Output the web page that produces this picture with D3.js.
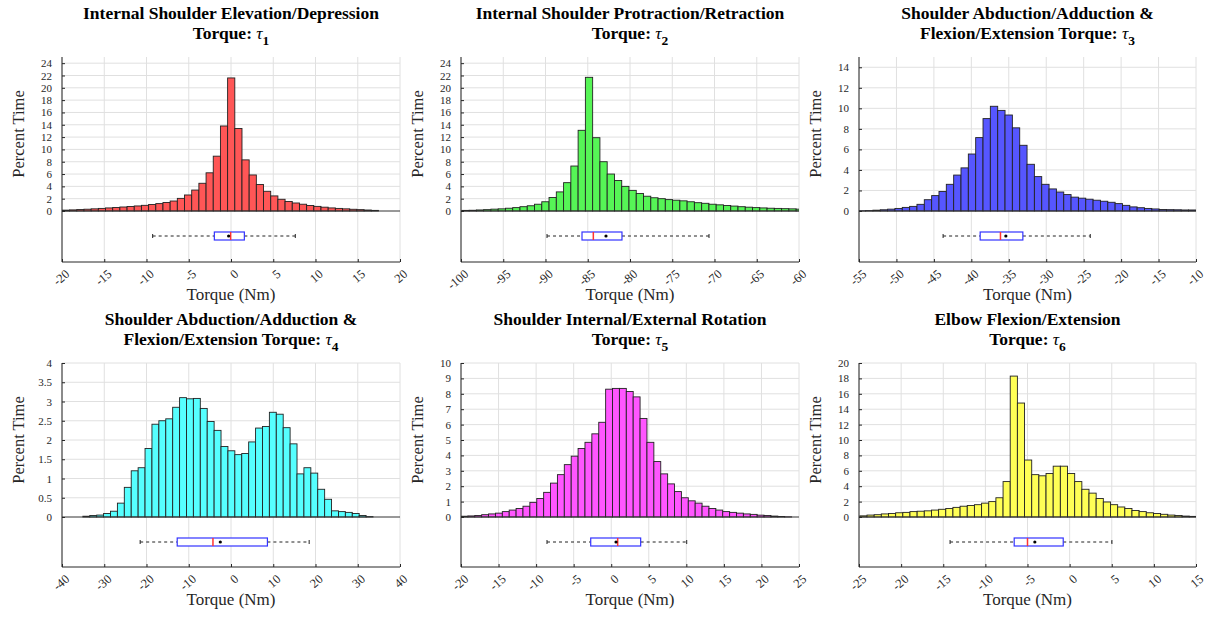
<!DOCTYPE html>
<html>
<head>
<meta charset="utf-8">
<script src="https://cdn.jsdelivr.net/npm/d3@7"></script>
<style>
  body { margin: 0; background: #fff; }
  svg text { font-family: "Liberation Serif", "Times New Roman", serif; fill: #262626; }
</style>
</head>
<body>
<svg id="fig" width="1210" height="617"></svg>
<script>
// ---- data ----
// each histogram: first bin edge, bin width, bar heights (percent time)
const tau1Start = -19.95, tau1Width = 0.85;
const tau1Values = [0.14, 0.18, 0.23, 0.29, 0.35, 0.42, 0.5, 0.57, 0.65, 0.73, 0.82, 0.92, 1.05, 1.2, 1.38, 1.62, 2.05, 2.6, 3.4, 4.5, 6.2, 8.9, 13.8,
  21.6,
  13.4, 8.3, 5.85, 4.3, 3.2, 2.45, 1.9, 1.55, 1.3, 1.1, 0.9, 0.75, 0.62, 0.5, 0.42, 0.35, 0.28, 0.22, 0.16, 0.1];

const tau2Start = -99.9, tau2Width = 0.86;
const tau2Values = [0.1, 0.12, 0.17, 0.22, 0.3, 0.35, 0.45, 0.55, 0.7, 0.85, 1.1, 1.5, 2.2, 3.1, 4.6, 7.3, 13.1,
  21.7,
  11.9, 8.0, 6.0, 4.95, 4.0, 3.35, 2.85, 2.4, 2.15, 2.0, 1.85, 1.75, 1.65, 1.5, 1.35, 1.25, 1.1, 1.0, 0.9, 0.8, 0.7, 0.62, 0.55, 0.5, 0.45, 0.42, 0.38, 0.35, 0.3];

const tau3Start = -55.1, tau3Width = 0.98;
const tau3Values = [0.02, 0.04, 0.08, 0.12, 0.18, 0.25, 0.35, 0.45, 0.65, 1.1, 1.5, 1.9, 2.6, 3.5, 4.2, 5.55, 7.15, 9.0,
  10.2,
  9.8, 9.35, 8.1, 6.4, 4.55, 3.35, 2.6, 2.15, 1.85, 1.6, 1.35, 1.25, 1.15, 1.05, 0.95, 0.85, 0.72, 0.55, 0.4, 0.32, 0.25, 0.2, 0.15, 0.13, 0.12, 0.1, 0.1];

const tau4Start = -35.06, tau4Width = 1.635;
const tau4Values = [0.02, 0.04, 0.05, 0.09, 0.15, 0.36, 0.77, 1.2, 1.28, 1.78, 2.41, 2.5, 2.55, 2.85, 3.1, 3.07, 3.08, 2.82, 2.48, 2.25, 1.83,
  1.72, 1.62, 1.65, 1.95, 2.31, 2.35, 2.72, 2.67, 2.32, 1.9, 1.12, 1.28, 1.14, 0.72, 0.46, 0.16, 0.14, 0.12, 0.09, 0.04, 0.01];

const tau5Start = -20.0, tau5Width = 0.917;
const tau5Values = [0.05, 0.07, 0.1, 0.15, 0.2, 0.25, 0.35, 0.45, 0.55, 0.7, 0.95, 1.2, 1.6, 2.2, 2.75, 3.4, 3.95, 4.45, 4.85, 5.4, 6.15,
  8.3, 8.35, 8.35, 8.15, 7.8, 6.4, 4.85, 3.6, 2.8, 2.15, 1.65, 1.25, 1.05, 0.9, 0.7, 0.55, 0.45, 0.35, 0.3, 0.25, 0.2, 0.17, 0.12, 0.1, 0.06, 0.03, 0.01];

const tau6Start = -24.9, tau6Width = 0.85;
const tau6Values = [0.15, 0.25, 0.3, 0.4, 0.45, 0.55, 0.6, 0.7, 0.75, 0.8, 0.9, 1.0, 1.1, 1.25, 1.4, 1.5, 1.6, 1.8, 2.0, 2.5, 4.6,
  18.3, 14.8, 7.4, 5.5, 5.35, 5.65, 6.6, 6.6, 5.65, 4.6, 3.6, 3.1, 2.4, 1.95, 1.6, 1.3, 1.1, 0.85, 0.7, 0.55, 0.45, 0.35, 0.25, 0.2, 0.12, 0.08];

// box plots: [q1, median, q3, mean, whisker low, whisker high]
const tau1Box = [-1.97, -0.04, 1.58, -0.28, -9.27, 7.61];
const tau2Box = [-85.68, -84.34, -80.95, -82.84, -89.82, -70.65];
const tau3Box = [-38.82, -36.11, -33.12, -35.39, -43.77, -24.12];
const tau4Box = [-12.73, -4.27, 8.62, -2.53, -21.5, 18.5];
const tau5Box = [-2.73, 0.86, 3.92, 0.64, -8.55, 10.05];
const tau6Box = [-6.58, -5.0, -0.76, -4.13, -14.19, 5.02];

// axes
const xTicks1 = [-20, -15, -10, -5, 0, 5, 10, 15, 20];
const xTicks2 = [-100, -95, -90, -85, -80, -75, -70, -65, -60];
const xTicks3 = [-55, -50, -45, -40, -35, -30, -25, -20, -15, -10];
const xTicks4 = [-40, -30, -20, -10, 0, 10, 20, 30, 40];
const xTicks5 = [-20, -15, -10, -5, 0, 5, 10, 15, 20, 25];
const xTicks6 = [-25, -20, -15, -10, -5, 0, 5, 10, 15];
const yTicks1 = [0, 2, 4, 6, 8, 10, 12, 14, 16, 18, 20, 22, 24];
const yTicks3 = [0, 2, 4, 6, 8, 10, 12, 14];
const yTicks4 = [0, 0.5, 1, 1.5, 2, 2.5, 3, 3.5, 4];
const yTicks5 = [0, 1, 2, 3, 4, 5, 6, 7, 8, 9, 10];
const yTicks6 = [0, 2, 4, 6, 8, 10, 12, 14, 16, 18, 20];

const titles = [
  ["Internal Shoulder Elevation/Depression", "Torque: ", "1"],
  ["Internal Shoulder Protraction/Retraction", "Torque: ", "2"],
  ["Shoulder Abduction/Adduction &", "Flexion/Extension Torque: ", "3"],
  ["Shoulder Abduction/Adduction &", "Flexion/Extension Torque: ", "4"],
  ["Shoulder Internal/External Rotation", "Torque: ", "5"],
  ["Elbow Flexion/Extension", "Torque: ", "6"]
];

const panels = [
  { start: tau1Start, width: tau1Width, values: tau1Values, box: tau1Box, xTicks: xTicks1, yTicks: yTicks1, yMax: 25, fill: "#ff5656" },
  { start: tau2Start, width: tau2Width, values: tau2Values, box: tau2Box, xTicks: xTicks2, yTicks: yTicks1, yMax: 25, fill: "#56f556" },
  { start: tau3Start, width: tau3Width, values: tau3Values, box: tau3Box, xTicks: xTicks3, yTicks: yTicks3, yMax: 15, fill: "#5656ff" },
  { start: tau4Start, width: tau4Width, values: tau4Values, box: tau4Box, xTicks: xTicks4, yTicks: yTicks4, yMax: 4, fill: "#56ffff" },
  { start: tau5Start, width: tau5Width, values: tau5Values, box: tau5Box, xTicks: xTicks5, yTicks: yTicks5, yMax: 10, fill: "#ff56ff" },
  { start: tau6Start, width: tau6Width, values: tau6Values, box: tau6Box, xTicks: xTicks6, yTicks: yTicks6, yMax: 20, fill: "#ffff56" }
];

// ---- layout ----
const cols = [[62, 400], [461, 799], [859, 1196]];
const rows = [{ top: 57, zero: 211, bottom: 262 }, { top: 363, zero: 517, bottom: 567 }];

const svg = d3.select("#fig");
const axisColor = "#262626";
const gridColor = "#e0e0e0";

panels.forEach((p, i) => {
  const [left, right] = cols[i % 3];
  const { top, zero, bottom } = rows[Math.floor(i / 3)];
  const xDom = [p.xTicks[0], p.xTicks[p.xTicks.length - 1]];
  const x = d3.scaleLinear().domain(xDom).range([left, right]);
  const y = d3.scaleLinear().domain([0, p.yMax]).range([zero, top]);
  const g = svg.append("g");

  const clipId = "clip" + i;
  svg.append("clipPath").attr("id", clipId)
    .append("rect").attr("x", left).attr("y", top - 2).attr("width", right - left).attr("height", bottom - top + 2);

  // grid
  g.append("g").selectAll("line").data(p.xTicks).join("line")
    .attr("x1", d => x(d)).attr("x2", d => x(d))
    .attr("y1", top).attr("y2", bottom)
    .attr("stroke", gridColor);
  g.append("g").selectAll("line").data(p.yTicks.filter(d => d > 0)).join("line")
    .attr("x1", left).attr("x2", right)
    .attr("y1", d => y(d)).attr("y2", d => y(d))
    .attr("stroke", gridColor);

  // histogram bars
  const bins = p.values.map((v, k) => ({ x0: p.start + k * p.width, x1: p.start + (k + 1) * p.width, v }));
  g.append("g").attr("clip-path", `url(#${clipId})`)
    .selectAll("rect").data(bins).join("rect")
    .attr("x", d => x(d.x0))
    .attr("width", d => x(d.x1) - x(d.x0))
    .attr("y", d => y(d.v))
    .attr("height", d => y(0) - y(d.v))
    .attr("fill", p.fill)
    .attr("stroke", "#222")
    .attr("stroke-width", 0.9);

  // zero baseline
  g.append("line").attr("x1", left).attr("x2", right).attr("y1", y(0)).attr("y2", y(0))
    .attr("stroke", "#333").attr("stroke-width", 1);

  // box plot
  const [q1, med, q3, mean, lo, hi] = p.box;
  const by = zero + 25, bh = 8;
  const bx = g.append("g");
  bx.selectAll("line.wh").data([[lo, q1], [q3, hi]]).join("line")
    .attr("x1", d => x(d[0])).attr("x2", d => x(d[1]))
    .attr("y1", by).attr("y2", by)
    .attr("stroke", "#222").attr("stroke-dasharray", "3,3");
  bx.selectAll("line.cap").data([lo, hi]).join("line")
    .attr("x1", d => x(d)).attr("x2", d => x(d))
    .attr("y1", by - 2).attr("y2", by + 2)
    .attr("stroke", "#222");
  bx.append("rect")
    .attr("x", x(q1)).attr("width", x(q3) - x(q1))
    .attr("y", by - bh / 2).attr("height", bh)
    .attr("fill", "#fff").attr("stroke", "#3333ff").attr("stroke-width", 1.2);
  bx.append("line")
    .attr("x1", x(med)).attr("x2", x(med))
    .attr("y1", by - bh / 2).attr("y2", by + bh / 2)
    .attr("stroke", "#ff3333").attr("stroke-width", 1.5);
  bx.append("circle").attr("cx", x(mean)).attr("cy", by).attr("r", 1.6).attr("fill", "#000");

  // axes
  const yAxis = g.append("g").attr("transform", `translate(${left},0)`)
    .call(d3.axisLeft(y).tickValues(p.yTicks).tickFormat(d => String(d)).tickSizeInner(-3).tickSizeOuter(0).tickPadding(10));
  yAxis.select(".domain").remove();
  yAxis.selectAll("line").attr("stroke", axisColor);
  yAxis.selectAll("text").attr("font-size", 11).style("font-family", "Liberation Serif");

  const xAxis = g.append("g").attr("transform", `translate(0,${bottom})`)
    .call(d3.axisBottom(x).tickValues(p.xTicks).tickFormat(d => String(d)).tickSizeInner(-3).tickSizeOuter(0));
  xAxis.select(".domain").remove();
  xAxis.selectAll("line").attr("stroke", axisColor);
  xAxis.selectAll("text")
    .attr("x", 0).attr("y", 0).attr("dy", "0.35em")
    .attr("transform", "translate(5,10) rotate(-40)")
    .style("text-anchor", "end")
    .attr("font-size", 12.5).style("font-family", "Liberation Serif");

  g.append("path")
    .attr("d", `M${left},${top}V${bottom}H${right}`)
    .attr("fill", "none").attr("stroke", axisColor).attr("stroke-width", 1);

  // labels
  g.append("text")
    .attr("x", (left + right) / 2).attr("y", bottom + 38)
    .attr("text-anchor", "middle").attr("font-size", 17)
    .text("Torque (Nm)");
  g.append("text")
    .attr("transform", `translate(${left - 44},${(top + zero) / 2}) rotate(-90)`)
    .attr("dy", "0.35em")
    .attr("text-anchor", "middle").attr("font-size", 16.5)
    .text("Percent Time");

  // title
  const [line1, line2, sub] = titles[i];
  const cx = (left + right) / 2;
  g.append("text").attr("x", cx).attr("y", top - 38)
    .attr("text-anchor", "middle").attr("font-size", 17.5).attr("font-weight", "bold")
    .style("fill", "#000")
    .text(line1);
  const t2 = g.append("text").attr("x", cx).attr("y", top - 18)
    .attr("text-anchor", "middle").attr("font-size", 17.5).attr("font-weight", "bold")
    .style("fill", "#000");
  t2.append("tspan").text(line2);
  t2.append("tspan").attr("font-style", "italic").attr("font-weight", "normal").text("\u03C4");
  t2.append("tspan").attr("dy", 6).attr("font-size", 13.5).text(sub);
});
</script>
</body>
</html>
